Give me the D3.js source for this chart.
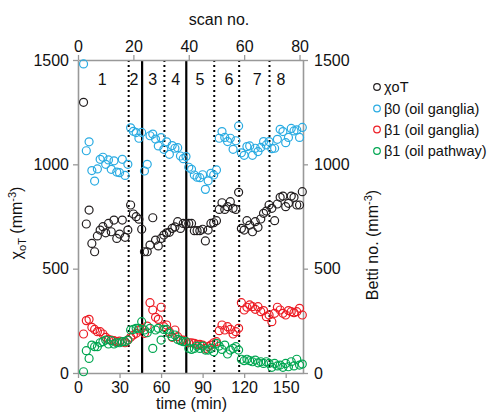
<!DOCTYPE html>
<html>
<head>
<meta charset="utf-8">
<script src="https://cdn.jsdelivr.net/npm/d3@7/dist/d3.min.js"></script>
<style>
  html, body { margin: 0; padding: 0; background: #fff; }
  svg { display: block; font-family: "Liberation Sans", Arial, sans-serif; }
</style>
</head>
<body>
<svg id="chart" width="487" height="416"></svg>
<script>
// ---- data ----
const timeMin = [4,6,8,10,12,14,16,18,20,22,24,26,28,30,32,34,36,38,40,42,44,46,48,50,52,54,56,58,60,62,64,66,68,70,72,74,76,78,80,82,84,86,88,90,92,94,96,98,100,102,104,106,108,110,112,114,116,118,120,122,124,126,128,130,132,134,136,138,140,142,144,146,148,150,152,154,156,158,160,162];

const chiOT = [1297,714,781,621,581,657,685,701,672,717,677,733,645,666,733,650,685,805,762,749,737,689,581,581,613,744,637,609,645,661,672,674,693,700,725,693,717,714,717,717,682,682,682,689,633,685,717,720,730,784,816,784,797,821,789,784,866,693,685,730,709,677,725,698,738,765,776,805,789,730,810,842,848,797,813,848,842,805,805,869];

const beta0Ganglia = [1481,1065,1108,970,920,978,1024,1034,1000,1021,976,1017,963,960,1024,947,1000,1175,1158,1152,1125,1153,968,1000,1137,1145,1121,1088,1128,1072,1108,1048,1090,1077,1080,1040,1027,1037,986,976,949,938,936,950,880,921,957,949,973,1125,1157,1129,1109,1125,1072,1113,1184,1055,1043,1085,1088,1043,1077,1061,1081,1109,1093,1109,1075,1077,1120,1168,1157,1104,1129,1172,1160,1165,1129,1177];

const beta1Ganglia = [187,251,257,219,209,198,198,187,171,161,158,155,150,153,150,145,158,171,182,190,206,214,190,225,337,302,267,257,315,222,230,198,171,206,174,158,158,150,145,145,142,137,137,134,118,126,134,145,150,203,230,206,222,209,187,198,214,337,302,315,326,318,305,318,294,299,270,278,246,286,315,302,286,278,299,294,289,294,310,278];

const beta1Pathway = [6,107,70,134,126,126,145,150,158,139,155,139,145,145,150,150,158,206,209,214,214,246,206,193,214,118,206,214,158,209,209,190,174,182,161,155,150,150,118,113,118,129,118,129,110,110,118,102,142,129,113,134,91,110,118,126,110,66,59,66,59,54,62,49,54,46,54,46,27,46,34,38,27,46,30,54,34,66,38,43];

const regionBounds = [36.6, 46.3, 62.4, 78.2, 98.4, 116.4, 138.3];
const boundStyle   = ["dotted","solid","dotted","solid","dotted","dotted","dotted"];
const regionLabels = ["1","2","3","4","5","6","7","8"];
const regionLabelTime = [17.5, 40.5, 54, 70.5, 88, 109, 129.5, 146.5];

const leftTicks  = [0,500,1000,1500];
const rightTicks = [0,500,1000,1500];
const timeTicks  = [0,30,60,90,120,150];
const scanTicks  = [0,20,40,60,80];

const seriesNames  = ["χoT","β0 (oil ganglia)","β1 (oil ganglia)","β1 (oil pathway)"];
const seriesColors = ["#231F20","#29ABE2","#ED1C24","#00A651"];

// ---- layout ----
const svg = d3.select("#chart");
const L = 78, R = 303, T = 60, B = 373;
const axisColor = "#999999";
const fmt = d3.format("d");

const x = d3.scaleLinear().domain([0,162.5]).range([L,R]);
const xs = d3.scaleLinear().domain([0,81.25]).range([L,R]);
const y = d3.scaleLinear().domain([0,1500]).range([B,T]);

function styleAxis(g){
  g.attr("font-family",null).attr("font-size",null);
  g.selectAll(".domain").attr("stroke",axisColor).attr("stroke-width",1.6);
  g.selectAll(".tick line").attr("stroke",axisColor).attr("stroke-width",1.3);
  g.selectAll(".tick text").attr("fill","#111").style("font-size","16px")
    .style("font-family","'Liberation Sans', Arial, sans-serif");
}

// vertical region boundaries
svg.append("g").selectAll("line").data(regionBounds).join("line")
  .attr("x1",d=>x(d)).attr("x2",d=>x(d))
  .attr("y1",T).attr("y2",B)
  .attr("stroke","#000")
  .attr("stroke-width",(d,i)=>boundStyle[i]==="solid"?2.2:2)
  .attr("stroke-dasharray",(d,i)=>boundStyle[i]==="solid"?null:"2,3");

// region labels
svg.append("g").selectAll("text").data(regionLabels).join("text")
  .attr("x",(d,i)=>x(regionLabelTime[i])).attr("y",84.5)
  .attr("text-anchor","middle").style("font-size","16px").attr("fill","#111")
  .text(d=>d);

// axes
const gl = svg.append("g").attr("transform",`translate(${L},0)`)
  .call(d3.axisLeft(y).tickValues(leftTicks).tickFormat(fmt).tickSize(5).tickPadding(4).tickSizeOuter(0));
styleAxis(gl);
const gr = svg.append("g").attr("transform",`translate(${R},0)`)
  .call(d3.axisRight(y).tickValues(rightTicks).tickFormat(fmt).tickSize(5).tickPadding(6).tickSizeOuter(0));
styleAxis(gr);
const gb = svg.append("g").attr("transform",`translate(0,${B})`)
  .call(d3.axisBottom(x).tickValues(timeTicks).tickFormat(fmt).tickSize(5).tickPadding(4).tickSizeOuter(0));
styleAxis(gb);
const gt = svg.append("g").attr("transform",`translate(0,${T})`)
  .call(d3.axisTop(xs).tickValues(scanTicks).tickFormat(fmt).tickSize(5).tickPadding(3).tickSizeOuter(0));
styleAxis(gt);

// series
const allSeries = [chiOT, beta0Ganglia, beta1Ganglia, beta1Pathway];
const gp = svg.append("g");
allSeries.forEach((vals,si)=>{
  gp.append("g").selectAll("circle").data(vals).join("circle")
    .attr("cx",(d,i)=>x(timeMin[i])).attr("cy",d=>y(d))
    .attr("r",4).attr("fill","none")
    .attr("stroke",seriesColors[si]).attr("stroke-width",1.2);
});

// axis titles
svg.append("text").attr("x",219).attr("y",25).attr("text-anchor","middle")
  .style("font-size","16px").attr("fill","#111").text("scan no.");
svg.append("text").attr("x",191.5).attr("y",409).attr("text-anchor","middle")
  .style("font-size","16px").attr("fill","#111").text("time (min)");

const yl = svg.append("text").attr("transform","translate(22,223) rotate(-90)")
  .attr("text-anchor","middle").style("font-size","16px").attr("fill","#111");
yl.append("tspan").text("χ");
yl.append("tspan").attr("dy",4).style("font-size","11px").text("oT");
yl.append("tspan").attr("dy",-4).text(" (mm");
yl.append("tspan").attr("dy",-6).style("font-size","11px").text("-3");
yl.append("tspan").attr("dy",6).text(")");

const yr = svg.append("text").attr("transform","translate(378,245) rotate(-90)")
  .attr("text-anchor","middle").style("font-size","16px").attr("fill","#111");
yr.append("tspan").text("Betti no. (mm");
yr.append("tspan").attr("dy",-6).style("font-size","11px").text("-3");
yr.append("tspan").attr("dy",6).text(")");

// legend
const lg = svg.append("g");
const legY = [87,108.5,129.5,151];
seriesNames.forEach((n,i)=>{
  lg.append("circle").attr("cx",377).attr("cy",legY[i]).attr("r",3.3)
    .attr("fill","none").attr("stroke",seriesColors[i]).attr("stroke-width",1.2);
  lg.append("text").attr("x",384).attr("y",legY[i]+5)
    .style("font-size","14.5px").attr("fill","#111").text(n);
});
</script>
</body>
</html>
